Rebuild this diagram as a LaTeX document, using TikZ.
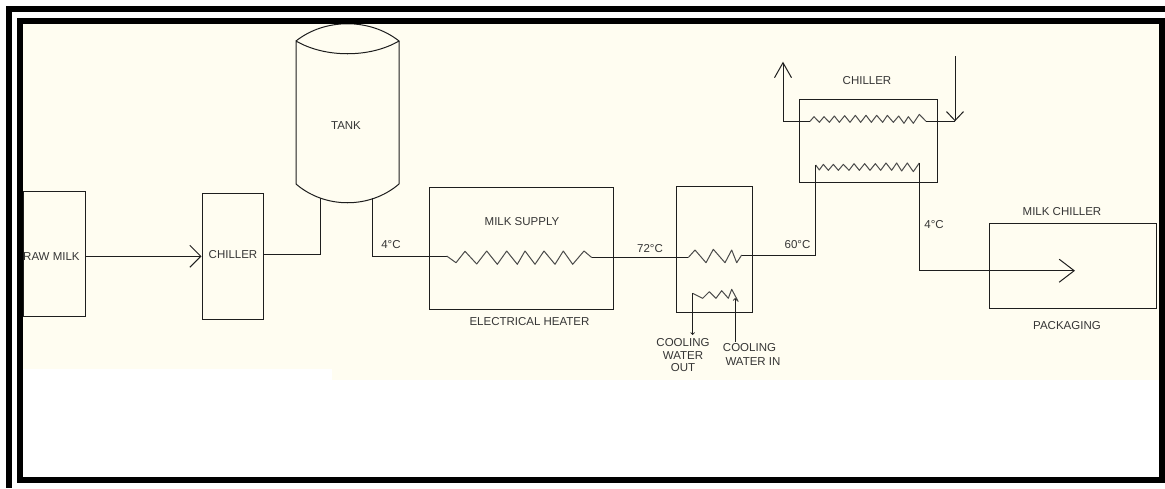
\documentclass[tikz,border=0pt]{standalone}
\usepackage{fontspec}
\setmainfont{Liberation Sans}
\usetikzlibrary{arrows.meta}
\definecolor{cream}{HTML}{FFFDF1}
\definecolor{ink}{HTML}{1E1E1E}
\tikzset{
  eq/.style={draw=ink,line width=1pt,fill=cream,inner sep=0pt,minimum width=#1},
  pipe/.style={draw=ink,line width=1pt,line join=miter},
  coil/.style={draw=ink!80,line width=1pt,line join=round},
  barbed/.style 2 args={pipe,-{Straight Barb[length=#1,width=#2,line width=1pt]}},
  smallarrow/.style={pipe,-{Straight Barb[length=2pt,width=4pt,line width=0.7pt]}},
  lbl/.style={font=\fontsize{11.5}{13}\selectfont,text=ink!90,inner sep=0pt,align=center},
  band/.style={fill=black,draw=none},
}
\begin{document}
\begin{tikzpicture}[x=1pt,y=-1pt]
\useasboundingbox (0,0) rectangle (1165,488);
\fill[white] (0,0) rectangle (1165,488);
% background
\fill[cream] (23,24) rectangle (1159,369);
\fill[cream] (332,369) rectangle (1159,380);

% equipment
\node[eq=62.5pt,minimum height=125pt] (raw) at (54.25,253.5) {};
\node[eq=61pt,minimum height=125.5pt] (chiA) at (232.5,256.25) {};
\node[eq=184.5pt,minimum height=122pt] (heater) at (521.5,248.5) {};
\node[eq=76.5pt,minimum height=125.5pt] (cooler) at (714.5,249.5) {};
\node[eq=138.5pt,minimum height=83pt] (chiB) at (868.5,140.5) {};
\node[eq=167.5pt,minimum height=85.5pt] (pack) at (1073,265.75) {};

% tank
\coordinate (tl) at (296,41);
\coordinate (tr) at (399,41);
\coordinate (bl) at (296,184);
\coordinate (br) at (399,184);
\coordinate (tankin) at (320,198);
\coordinate (tankout) at (372,198);
\path[fill=cream] (tl) .. controls (325,18) and (370,18) .. (tr) -- (br) .. controls (370,209) and (325,209) .. (bl) -- cycle;
\draw[pipe] (tl) .. controls (325,18) and (370,18) .. (tr)
            .. controls (370,58) and (325,58) .. (tl) -- (bl)
            .. controls (325,209) and (370,209) .. (br) -- (tr);
\node[lbl] (tank) at (346,126) {TANK};

% connectors
\draw[barbed={11pt}{22pt}] (raw.east |- chiA.west) -- (chiA.west);
\coordinate (chiAout) at (chiA.east |- 0,254);
\draw[pipe] (chiAout) -| (tankin);

% heater coil
\coordinate (hin) at (446.7,256);
\coordinate (hout) at (591.7,257.5);
\draw[pipe] (tankout) |- (hin);
\draw[coil] (hin) -- (456,262.7) -- (465,251.3) -- (476.7,264) -- (486.7,251) -- (497.3,264.3) -- (506.7,251) -- (517.3,264.3) -- (525,251) -- (535,264.3) -- (544,251) -- (555,264.3) -- (563.3,251) -- (572.7,264.3) -- (584,251) -- (hout);

% cooler coil
\coordinate (cin) at (688.3,257.5);
\coordinate (cout) at (741.7,255);
\draw[pipe] (hout) -- (cin);
\draw[coil] (cin) -- (695,250) -- (706,262.7) -- (713.3,249.3) -- (725,262.7) -- (731.7,250) -- (736.7,262.7) -- (cout);

% cooling water coil
\coordinate (wout) at (692.7,293.3);
\coordinate (win) at (735,298);
\coordinate (woutend) at (692.7,335);
\coordinate (winend) at (735,341.7);
\draw[coil] (wout) -- (702.7,298.3) -- (709.3,291.7) -- (716,298.3) -- (721.7,290.7) -- (728.3,298.3) -- (731.7,289.3) -- (738.3,301.7);
\draw[smallarrow] (wout) -- (woutend);
\draw[smallarrow] (winend) -- (win);

% chiller coils
\coordinate (uin) at (955,121.3);
\coordinate (uout) at (783,121.3);
\coordinate (ura) at (810,121.3);
\coordinate (urb) at (926,121.3);
\coordinate (lleft) at (815.7,165);
\coordinate (lright) at (919.3,163);
\begin{scope}[shift={(800,105)},x=0.3333pt,y=-0.3333pt]
\draw[coil] (ura) -- (42,35) -- (58,52) -- (72,35) -- (88,52) -- (103,33) -- (118,52) -- (134,32) -- (150,52) -- (166,31) -- (182,52) -- (198,31) -- (214,52) -- (230,31) -- (248,52) -- (262,31) -- (280,52) -- (296,33) -- (312,55) -- (325,35) -- (340,55) -- (358,28) -- (urb);
\draw[coil] (lleft) -- (58,195) -- (70,178) -- (85,196) -- (100,178) -- (115,196) -- (130,178) -- (147,196) -- (162,176) -- (178,196) -- (194,176) -- (210,196) -- (226,176) -- (242,196) -- (258,174) -- (275,196) -- (290,174) -- (305,198) -- (322,174) -- (340,200) -- (lright);
\end{scope}
\coordinate (uintop) at (955,56);
\coordinate (uouttop) at (783,61.7);
\coordinate (packtip) at (1075,270.7);
\draw[barbed={9pt}{17pt}] (uintop) -- (uin);
\draw[pipe] (uin) -- (urb);
\draw[pipe] (ura) -- (uout);
\draw[barbed={15pt}{17pt}] (uout) -- (uouttop);
\draw[pipe] (cout) -- (815.7,255) -- (lleft);
\draw[barbed={15pt}{23pt}] (lright) |- (packtip);

% labels
\node[lbl,anchor=west] (rawlabel) at (23,257) {RAW MILK};
\node[lbl] (chiAlabel) at (233,255) {CHILLER};
\node[lbl] (t4a) at (391,244.5) {4°C};
\node[lbl] (supply) at (522,222) {MILK SUPPLY};
\node[lbl] (eh) at (529.5,322) {ELECTRICAL HEATER};
\node[lbl] (t72) at (650,249) {72°C};
\node[lbl] (t60) at (797.5,244.7) {60°C};
\node[lbl] (cwo1) at (683,343) {COOLING};
\node[lbl] (cwo2) at (683,355.5) {WATER};
\node[lbl] (cwo3) at (683,368) {OUT};
\node[lbl] (cwi1) at (749.5,348) {COOLING};
\node[lbl] (cwi2) at (753,362) {WATER IN};
\node[lbl] (chiBlabel) at (867,81) {CHILLER};
\node[lbl] (t4b) at (934,225) {4°C};
\node[lbl] (mc) at (1062,212) {MILK CHILLER};
\node[lbl] (pk) at (1067,326) {PACKAGING};

% frame
\fill[band] (6,6) rectangle (1165,12);
\fill[band] (6,6) rectangle (12,488);
\fill[band] (17,18) rectangle (1165,24);
\fill[band] (17,18) rectangle (23,483);
\fill[band] (17,477) rectangle (1165,483);
\fill[band] (1159,18) rectangle (1165,483);
\end{tikzpicture}
\end{document}
